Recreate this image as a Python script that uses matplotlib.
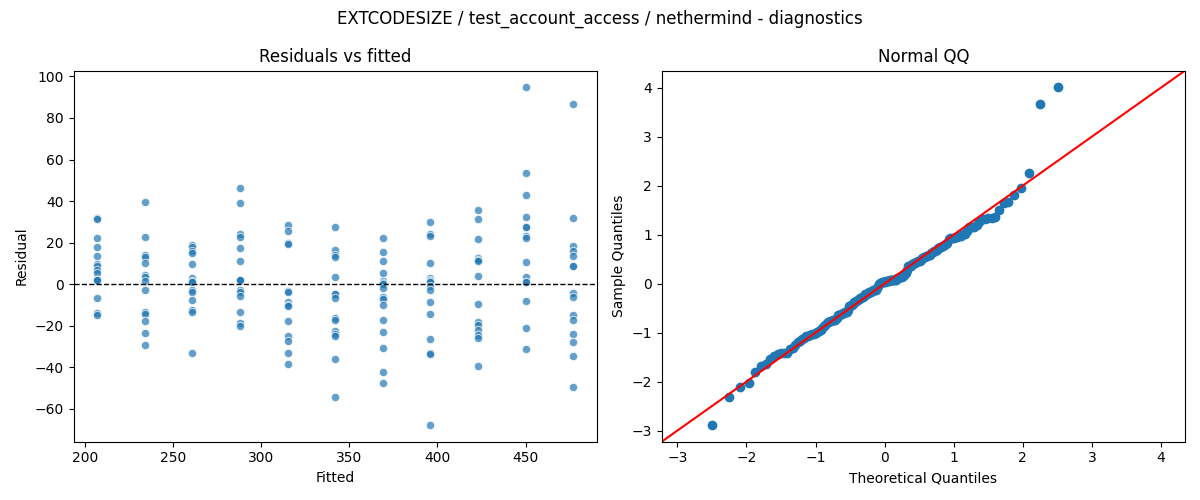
import numpy as np
import matplotlib
matplotlib.use('Agg')
import matplotlib.pyplot as plt
from statistics import NormalDist

# fitted levels and residuals, one list per level
fitted_levels = [207, 234, 261, 288, 315, 342, 369, 396, 423, 450, 477]
res_207 = [32.0, 31.5, 22.1, 17.8, 13.5, 9.8, 8.8, 6.9, 5.3, 2.1, 2.0, 1.8, -6.6, -13.9, -14.9]
res_234 = [39.4, 22.8, 14.1, 13.0, 10.1, 4.5, 3.4, 1.3, -2.9, -13.6, -14.3, -17.9, -23.6, -29.3]
res_261 = [18.6, 18.1, 15.7, 14.9, 9.8, 2.9, 1.5, 0.8, -2.7, -3.8, -7.5, -12.3, -13.5, -33.2]
res_288 = [46.2, 38.9, 24.2, 22.6, 17.3, 11.1, 2.1, 2.0, 1.8, -2.7, -4.0, -5.9, -13.5, -18.8, -20.4]
res_315 = [28.5, 25.8, 19.7, 19.2, -3.5, -3.8, -8.8, -10.3, -10.7, -17.6, -24.8, -27.6, -33.2, -38.5]
res_342 = [27.4, 16.5, 14.1, 13.0, 3.4, -4.6, -4.8, -6.7, -16.3, -17.1, -22.8, -23.9, -25.2, -35.9, -54.3]
res_369 = [22.1, 15.4, 11.1, 5.3, 1.3, 0.6, 0.2, -1.9, -6.4, -7.2, -10.3, -17.3, -23.2, -30.8, -42.3, -47.6]
res_396 = [29.8, 24.2, 23.2, 10.1, 2.9, 2.1, 1.5, 1.0, -1.1, -3.0, -8.7, -14.4, -26.4, -33.2, -33.7, -67.8]
res_423 = [35.6, 31.3, 21.6, 12.5, 11.7, 10.9, 3.8, -9.6, -18.4, -19.6, -22.3, -24.4, -26.0, -39.3]
res_450 = [94.7, 53.4, 42.9, 32.4, 27.7, 27.4, 23.2, 22.1, 10.6, 3.2, 1.2, 0.8, -8.0, -21.2, -31.1]
res_477 = [86.5, 31.9, 18.4, 15.7, 13.6, 8.8, 8.5, -4.3, -6.4, -14.7, -17.1, -24.0, -27.9, -34.5, -49.5]

res_groups = [res_207, res_234, res_261, res_288, res_315, res_342,
              res_369, res_396, res_423, res_450, res_477]

fitted = np.concatenate([[f] * len(g) for f, g in zip(fitted_levels, res_groups)])
resid = np.concatenate(res_groups)

fig, (ax1, ax2) = plt.subplots(1, 2, figsize=(12, 5), dpi=100)

# residuals vs fitted
ax1.scatter(fitted, resid, s=36, alpha=0.7, color='C0',
            edgecolor='white', linewidth=0.75)
ax1.axhline(0, color='black', linestyle='--', linewidth=1)
ax1.set_title('Residuals vs fitted')
ax1.set_xlabel('Fitted')
ax1.set_ylabel('Residual')

# normal QQ of standardized residuals
n = len(resid)
z = (resid - resid.mean()) / resid.std(ddof=1)
sample_q = np.sort(z)
nd = NormalDist()
theo_q = np.array([nd.inv_cdf(i / (n + 1)) for i in range(1, n + 1)])
ax2.plot(theo_q, sample_q, marker='o', linestyle='none', color='C0')
xl = ax2.get_xlim()
yl = ax2.get_ylim()
lo, hi = min(xl[0], yl[0]), max(xl[1], yl[1])
ax2.plot([lo, hi], [lo, hi], 'r-')
ax2.set_xlim(lo, hi)
ax2.set_ylim(lo, hi)
ax2.set_title('Normal QQ')
ax2.set_xlabel('Theoretical Quantiles')
ax2.set_ylabel('Sample Quantiles')

fig.suptitle('EXTCODESIZE / test_account_access / nethermind - diagnostics')
fig.tight_layout()
fig.savefig('out.png')
